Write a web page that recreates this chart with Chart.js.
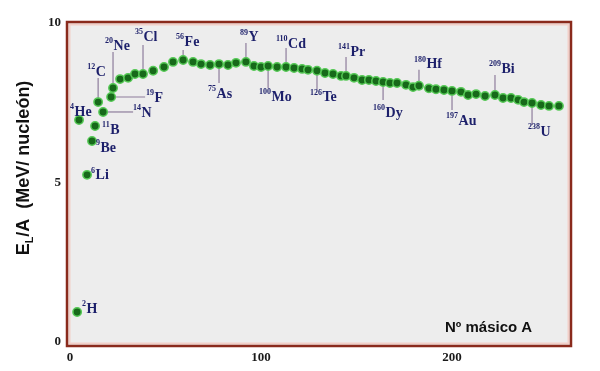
<!DOCTYPE html>
<html lang="es">
<head>
<meta charset="UTF-8">
<title>Energía de enlace por nucleón</title>
<script src="https://cdn.jsdelivr.net/npm/chart.js"></script>
<style>
  * { margin: 0; padding: 0; box-sizing: border-box; }
  html, body { background: #ffffff; }
  #grafico { display: block; }
</style>
</head>
<body>
<canvas id="grafico" width="600" height="371"></canvas>
<script>
// Nº másico A de cada punto
const masico = [3.7, 4.7, 8.9, 11.5, 13.1, 14.7, 17.3, 21.5, 22.5, 26.2, 30.4, 34.0, 38.2, 43.5, 49.2, 53.9,
  59.2, 64.4, 68.6, 73.3, 78.0, 82.7, 86.9, 92.1, 96.3, 100.0, 103.7, 108.4, 113.1, 117.3, 121.5, 124.6,
  129.3, 133.5, 137.7, 141.9, 144.5, 148.7, 152.9, 156.5, 160.2, 163.9, 167.5, 171.2, 175.9, 179.6,
  182.7, 187.9, 191.6, 195.8, 200.0, 204.7, 208.4, 212.6, 217.3, 222.5, 226.7, 230.9, 234.6, 237.7,
  241.9, 246.6, 250.8, 256.0];
// E_L/A en MeV por nucleón
const energia = [0.94, 6.96, 5.24, 6.30, 6.77, 7.52, 7.21, 7.68, 7.96, 8.24, 8.28, 8.40, 8.40, 8.50, 8.62, 8.78,
  8.84, 8.78, 8.71, 8.68, 8.71, 8.68, 8.75, 8.78, 8.65, 8.62, 8.65, 8.62, 8.62, 8.59, 8.56, 8.53,
  8.50, 8.43, 8.40, 8.34, 8.34, 8.28, 8.21, 8.21, 8.18, 8.15, 8.12, 8.12, 8.06, 7.99,
  8.03, 7.95, 7.92, 7.90, 7.87, 7.84, 7.74, 7.77, 7.71, 7.74, 7.65, 7.65, 7.59, 7.52,
  7.49, 7.43, 7.40, 7.40];

// núcleos rotulados: índice del punto, número másico y símbolo
const nucleidoPunto = [0, 1, 2, 3, 4, 5, 6, 7, 8, 12, 16, 20, 23, 26, 28, 32, 36, 41, 46, 50, 55, 60];
const nucleidoA = ['2', '4', '6', '9', '11', '12', '14', '19', '20', '35', '56', '75', '89', '100', '110', '126', '141', '160', '180', '197', '209', '238'];
const nucleidoSimbolo = ['H', 'He', 'Li', 'Be', 'B', 'C', 'N', 'F', 'Ne', 'Cl', 'Fe', 'As', 'Y', 'Mo', 'Cd', 'Te', 'Pr', 'Dy', 'Hf', 'Au', 'Bi', 'U'];

const ticksX = [0, 100, 200];
const ticksY = [0, 5, 10];

// colocación de cada rótulo en píxeles respecto al punto (línea lx,ly; texto tx,ty)
const colocacion = [
  { lx: 0, ly: 0, tx: 5, ty: -4 },     // H
  { lx: 0, ly: 0, tx: -9, ty: -9 },    // He
  { lx: 0, ly: 0, tx: 4, ty: 0 },      // Li
  { lx: 0, ly: 0, tx: 4, ty: 6 },      // Be
  { lx: 0, ly: 0, tx: 7, ty: 3 },      // B
  { lx: 0, ly: -24, tx: -11, ty: -31 },// C
  { lx: 30, ly: 0, tx: 30, ty: 0 },    // N
  { lx: 34, ly: 0, tx: 35, ty: 0 },    // F
  { lx: 0, ly: -36, tx: -8, ty: -43 }, // Ne
  { lx: 0, ly: -29, tx: -8, ty: -38 }, // Cl
  { lx: 0, ly: -10, tx: -7, ty: -19 }, // Fe
  { lx: 0, ly: 19, tx: -11, ty: 29 },  // As
  { lx: 0, ly: -19, tx: -6, ty: -25 }, // Y
  { lx: 0, ly: 22, tx: -9, ty: 30 },   // Mo
  { lx: 0, ly: -19, tx: -10, ty: -24 },// Cd
  { lx: 0, ly: 19, tx: -7, ty: 26 },   // Te
  { lx: 0, ly: -19, tx: -8, ty: -25 }, // Pr
  { lx: 0, ly: 18, tx: -10, ty: 30 },  // Dy
  { lx: 0, ly: -16, tx: -5, ty: -22 }, // Hf
  { lx: 0, ly: 19, tx: -6, ty: 29 },   // Au
  { lx: 0, ly: -20, tx: -6, ty: -27 }, // Bi
  { lx: 0, ly: 22, tx: -4, ty: 28 }    // U
];

// marco rojizo y fondo gris del área de la gráfica
const marco = {
  id: 'marco',
  beforeDraw(chart) {
    const { ctx, chartArea: a } = chart;
    ctx.save();
    ctx.fillStyle = '#ffffff';
    ctx.fillRect(0, 0, chart.width, chart.height);
    ctx.fillStyle = '#ededed';
    ctx.fillRect(a.left, a.top, a.right - a.left, a.bottom - a.top);
    ctx.strokeStyle = '#f2cfc8';
    ctx.lineWidth = 2;
    ctx.strokeRect(a.left + 2.5, a.top + 2.5, a.right - a.left - 5, a.bottom - a.top - 5);
    ctx.strokeStyle = '#8a2a1c';
    ctx.lineWidth = 2.5;
    ctx.strokeRect(a.left, a.top, a.right - a.left, a.bottom - a.top);
    ctx.restore();
  }
};

// rótulos de los núcleos con líneas guía
const rotulos = {
  id: 'rotulos',
  beforeDatasetsDraw(chart) {
    const { ctx, scales } = chart;
    ctx.save();
    ctx.strokeStyle = '#8e7d9c';
    ctx.lineWidth = 1.2;
    nucleidoPunto.forEach((p, i) => {
      const c = colocacion[i];
      if (!c.lx && !c.ly) return;
      const x = scales.x.getPixelForValue(masico[p]);
      const y = scales.y.getPixelForValue(energia[p]);
      ctx.beginPath();
      ctx.moveTo(x, y);
      ctx.lineTo(x + c.lx, y + c.ly);
      ctx.stroke();
    });
    ctx.restore();
  },
  afterDatasetsDraw(chart) {
    const { ctx, scales } = chart;
    ctx.save();
    ctx.fillStyle = '#1c1f6a';
    ctx.textBaseline = 'middle';
    ctx.textAlign = 'left';
    nucleidoPunto.forEach((p, i) => {
      const c = colocacion[i];
      const x = scales.x.getPixelForValue(masico[p]) + c.tx;
      const y = scales.y.getPixelForValue(energia[p]) + c.ty;
      ctx.font = 'bold 8px "Liberation Serif"';
      ctx.fillText(nucleidoA[i], x, y - 4);
      const w = ctx.measureText(nucleidoA[i]).width;
      ctx.font = 'bold 14px "Liberation Serif"';
      ctx.fillText(nucleidoSimbolo[i], x + w + 0.5, y + 1);
    });
    ctx.restore();
  },
  afterDraw(chart) {
    const { ctx } = chart;
    ctx.save();
    // título del eje vertical con subíndice
    ctx.translate(24, 168);
    ctx.rotate(-Math.PI / 2);
    ctx.fillStyle = '#111111';
    ctx.textBaseline = 'middle';
    const f1 = 'bold 18px "Liberation Sans"';
    const f2 = 'bold 11px "Liberation Sans"';
    const partes = [['E', f1, 0], ['L', f2, 6], ['/A  (MeV/ nucleón)', f1, 0]];
    let total = 0;
    partes.forEach(([t, f]) => { ctx.font = f; total += ctx.measureText(t).width; });
    let x = -total / 2;
    partes.forEach(([t, f, dy]) => {
      ctx.font = f;
      ctx.fillText(t, x, dy);
      x += ctx.measureText(t).width;
    });
    ctx.restore();

    ctx.save();
    ctx.fillStyle = '#111111';
    ctx.font = 'bold 15px "Liberation Sans"';
    ctx.textBaseline = 'middle';
    ctx.fillText('Nº másico A', 445, 328);
    ctx.restore();
  }
};

const fuenteTicks = { family: '"Liberation Serif"', size: 13, weight: 'bold' };

new Chart(document.getElementById('grafico'), {
  type: 'scatter',
  data: {
    datasets: [{
      data: masico.map((a, i) => ({ x: a, y: energia[i] })),
      pointRadius: 4.2,
      pointHoverRadius: 4.2,
      pointBackgroundColor: '#17691a',
      pointBorderColor: '#56c956',
      pointBorderWidth: 1.5
    }]
  },
  options: {
    responsive: false,
    animation: false,
    events: [],
    layout: { padding: { top: 22, right: 29, left: 0, bottom: 0 } },
    plugins: { legend: { display: false }, tooltip: { enabled: false } },
    scales: {
      x: {
        type: 'linear',
        min: -1.6,
        max: 262.3,
        grid: { display: false, drawTicks: false },
        border: { display: false },
        afterBuildTicks: s => { s.ticks = ticksX.map(v => ({ value: v })); },
        afterFit: s => { s.height = 25; },
        ticks: { font: fuenteTicks, color: '#1a1a1a', padding: 4, maxRotation: 0 }
      },
      y: {
        type: 'linear',
        min: -0.125,
        max: 10.03,
        grid: { display: false, drawTicks: false },
        border: { display: false },
        afterBuildTicks: s => { s.ticks = ticksY.map(v => ({ value: v })); },
        afterFit: s => { s.width = 67; },
        ticks: { font: fuenteTicks, color: '#1a1a1a', padding: 6 }
      }
    }
  },
  plugins: [marco, rotulos]
});
</script>
</body>
</html>
